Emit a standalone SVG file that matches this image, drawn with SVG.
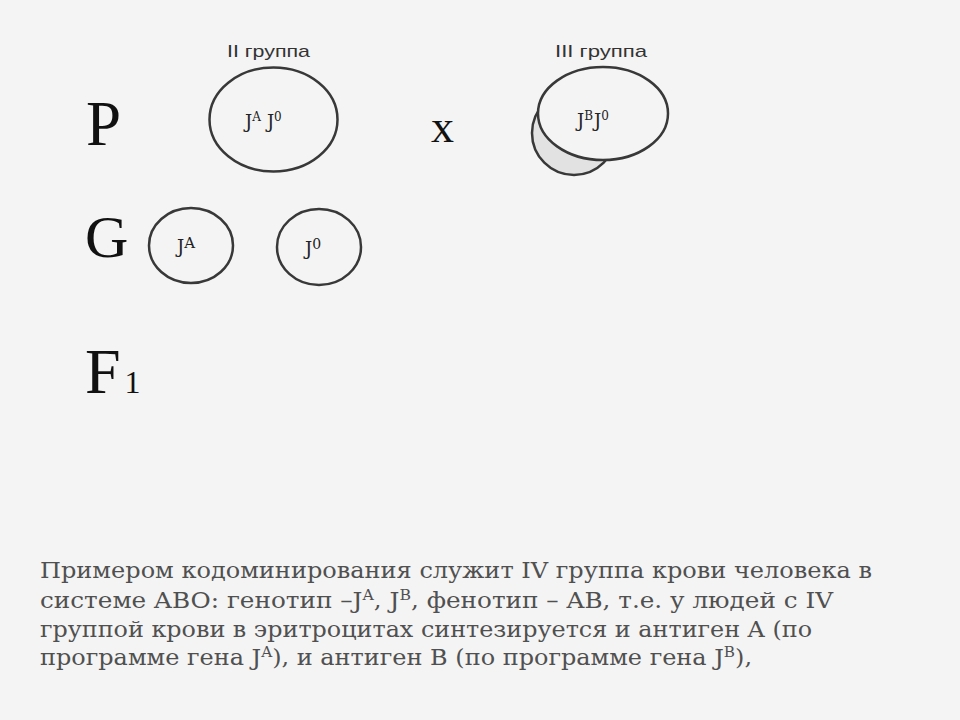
<svg xmlns="http://www.w3.org/2000/svg" width="960" height="720" viewBox="0 0 960 720">
<style>
.bg{fill:#f4f4f4}
.cell{fill:#f4f4f4;stroke:#383838;stroke-width:2.5}
.shadow{fill:#e2e2e2;stroke:#383838;stroke-width:2.5}
.big{font-family:"Liberation Serif",serif;fill:#111}
.lab{font-family:"Liberation Sans",sans-serif;font-size:17px;fill:#333}
.gene{font-family:"DejaVu Serif","Liberation Serif",serif;font-size:18px;fill:#222}
.sup{font-size:12px}
.para{font-family:"DejaVu Serif","Liberation Serif",serif;font-size:22px;fill:#505050}
.psup{font-size:14px}
</style>
<rect class="bg" x="0" y="0" width="960" height="720"/>

<g id="label-P"><text class="big" x="86" y="145" font-size="63">P</text></g>
<g id="label-G"><text class="big" x="85" y="257" font-size="60">G</text></g>
<g id="label-F1"><text class="big" x="85" y="393" font-size="64">F<tspan font-size="32" dx="4">1</tspan></text></g>
<g id="cross"><text class="big" x="431" y="142" font-size="46">x</text></g>

<g id="parent-II">
  <text class="lab" x="227" y="57" textLength="83" lengthAdjust="spacingAndGlyphs">II группа</text>
  <ellipse class="cell" cx="273.5" cy="119.5" rx="64" ry="52"/>
  <text class="gene" x="245" y="128">J<tspan class="sup" dy="-7">A</tspan><tspan dy="7" dx="6">J</tspan><tspan class="sup" dy="-7">0</tspan></text>
</g>

<g id="parent-III">
  <text class="lab" x="555" y="57" textLength="92" lengthAdjust="spacingAndGlyphs">III группа</text>
  <ellipse class="shadow" cx="574" cy="133" rx="42" ry="42"/>
  <ellipse class="cell" cx="603" cy="113.5" rx="65" ry="46.5"/>
  <text class="gene" x="577" y="127">J<tspan class="sup" dy="-7">B</tspan><tspan dy="7" dx="1">J</tspan><tspan class="sup" dy="-7">0</tspan></text>
</g>

<g id="gamete-A">
  <ellipse class="cell" cx="191" cy="245.5" rx="42" ry="37.5"/>
  <text class="gene" x="177" y="253" font-size="18">J<tspan font-size="15" dy="-5">A</tspan></text>
</g>

<g id="gamete-0">
  <ellipse class="cell" cx="319" cy="247" rx="42" ry="38"/>
  <text class="gene" x="305" y="255" font-size="18">J<tspan font-size="14" dy="-6">0</tspan></text>
</g>

<g id="connectors"></g>

<g id="paragraph">
  <text class="para" x="40" y="578" textLength="832" lengthAdjust="spacingAndGlyphs">Примером кодоминирования служит IV группа крови человека в</text>
  <text class="para" x="40" y="608" textLength="793" lengthAdjust="spacingAndGlyphs">системе ABO: генотип –J<tspan class="psup" dy="-8">A</tspan><tspan dy="8">, J</tspan><tspan class="psup" dy="-8">B</tspan><tspan dy="8">, фенотип – AB,  т.е. у людей с IV</tspan></text>
  <text class="para" x="40" y="637" textLength="772" lengthAdjust="spacingAndGlyphs">группой крови в эритроцитах синтезируется и антиген A (по</text>
  <text class="para" x="40" y="665" textLength="712" lengthAdjust="spacingAndGlyphs">программе гена J<tspan class="psup" dy="-8">A</tspan><tspan dy="8">), и антиген B (по программе гена J</tspan><tspan class="psup" dy="-8">B</tspan><tspan dy="8">),</tspan></text>
</g>
</svg>
